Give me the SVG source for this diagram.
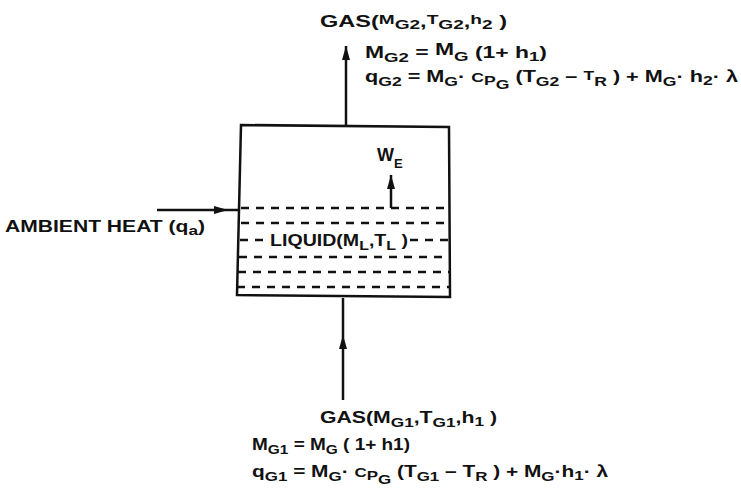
<svg xmlns="http://www.w3.org/2000/svg" width="741" height="501" viewBox="0 0 741 501">
<style>
.ln{stroke:#111;stroke-width:2.5;fill:none}
.ds{stroke:#111;stroke-width:2.5;fill:none;stroke-dasharray:8 7}
.t{font-family:"Liberation Sans",Arial,sans-serif;font-weight:bold;font-size:16px;fill:#111}
.s{font-size:13px}
</style>
<defs>
<marker id="ah" viewBox="0 0 14 8" refX="14" refY="4" markerUnits="userSpaceOnUse" markerWidth="14" markerHeight="8" orient="auto">
<path d="M0,0 L14,4 L0,8 z" fill="#111"/>
</marker>
</defs>
<rect width="741" height="501" fill="#fff"/>
<g id="tank">
<path class="ln" d="M241,125 L449,127 L450,297 L237,295 Z"/>
<path class="ds" d="M241,208 H449"/>
<path class="ds" d="M241,223 H449"/>
<path class="ds" d="M240,240 H266 M410,240 H449"/>
<path class="ds" d="M239,257 H449"/>
<path class="ds" d="M238,272 H449"/>
<path class="ds" d="M237,287 H450"/>
<text class="t" x="270" y="246" textLength="138" lengthAdjust="spacingAndGlyphs">LIQUID(M<tspan class="s" dy="4">L</tspan><tspan dy="-4">,T</tspan><tspan class="s" dy="4">L</tspan><tspan dy="-4"> )</tspan></text>
</g>
<g id="connectors">
<path class="ln" d="M346,125 V46" marker-end="url(#ah)"/>
<path class="ln" d="M343,400 V335 V298" marker-mid="url(#ah)"/>
<path class="ln" d="M157,210 H228 H240" marker-mid="url(#ah)"/>
<path class="ln" d="M391,208 V175" marker-end="url(#ah)"/>
</g>
<g id="gas-out">
<text class="t" x="320" y="27" textLength="187" lengthAdjust="spacingAndGlyphs">GAS(<tspan class="s" dy="-3">M</tspan><tspan class="s" dy="5">G2</tspan><tspan dy="-2">,</tspan><tspan class="s" dy="-3">T</tspan><tspan class="s" dy="5">G2</tspan><tspan dy="-2">,</tspan><tspan class="s" dy="-3">h</tspan><tspan class="s" dy="5">2</tspan><tspan dy="-2"> )</tspan></text>
<text class="t" x="365" y="58" textLength="182" lengthAdjust="spacingAndGlyphs">M<tspan class="s" dy="4">G2</tspan><tspan dy="-4"> = </tspan><tspan dy="-3">M</tspan><tspan class="s" dy="6">G</tspan><tspan dy="-3"> (1+ h</tspan><tspan class="s" dy="3">1</tspan><tspan dy="-3">)</tspan></text>
<text class="t" x="365" y="82" textLength="373" lengthAdjust="spacingAndGlyphs">q<tspan class="s" dy="4">G2</tspan><tspan dy="-4"> = M</tspan><tspan class="s" dy="4">G</tspan><tspan dy="-4">· </tspan><tspan class="s">C</tspan><tspan class="s" dy="3">P</tspan><tspan class="s" dy="4">G</tspan><tspan dy="-7"> (T</tspan><tspan class="s" dy="4">G2</tspan><tspan dy="-4"> – </tspan><tspan class="s" dy="-2">T</tspan><tspan class="s" dy="6">R</tspan><tspan dy="-4"> ) + M</tspan><tspan class="s" dy="4">G</tspan><tspan dy="-4">· h</tspan><tspan class="s" dy="3">2</tspan><tspan dy="-3">· λ</tspan></text>
</g>
<g id="gas-in">
<text class="t" x="320" y="423" textLength="177" lengthAdjust="spacingAndGlyphs">GAS(M<tspan class="s" dy="4">G1</tspan><tspan dy="-4">,T</tspan><tspan class="s" dy="4">G1</tspan><tspan dy="-4">,h</tspan><tspan class="s" dy="3">1</tspan><tspan dy="-3"> )</tspan></text>
<text class="t" x="252" y="450" textLength="158" lengthAdjust="spacingAndGlyphs">M<tspan class="s" dy="4">G1</tspan><tspan dy="-4"> = M</tspan><tspan class="s" dy="4">G</tspan><tspan dy="-4"> ( 1+ h1)</tspan></text>
<text class="t" x="252" y="477" textLength="356" lengthAdjust="spacingAndGlyphs">q<tspan class="s" dy="4">G1</tspan><tspan dy="-4"> = M</tspan><tspan class="s" dy="4">G</tspan><tspan dy="-4">· </tspan><tspan class="s">C</tspan><tspan class="s" dy="3">P</tspan><tspan class="s" dy="4">G</tspan><tspan dy="-7"> (T</tspan><tspan class="s" dy="4">G1</tspan><tspan dy="-4"> – T</tspan><tspan class="s" dy="4">R</tspan><tspan dy="-4"> ) + M</tspan><tspan class="s" dy="4">G</tspan><tspan dy="-4">·h</tspan><tspan class="s" dy="3">1</tspan><tspan dy="-3">· λ</tspan></text>
</g>
<g id="ambient-heat">
<text class="t" x="5" y="232" textLength="200" lengthAdjust="spacingAndGlyphs">AMBIENT  HEAT (q<tspan class="s" dy="3">a</tspan><tspan dy="-3">)</tspan></text>
</g>
<g id="evaporation">
<text class="t" x="377" y="161" style="font-size:18px">W<tspan class="s" dy="7">E</tspan></text>
</g>
</svg>
